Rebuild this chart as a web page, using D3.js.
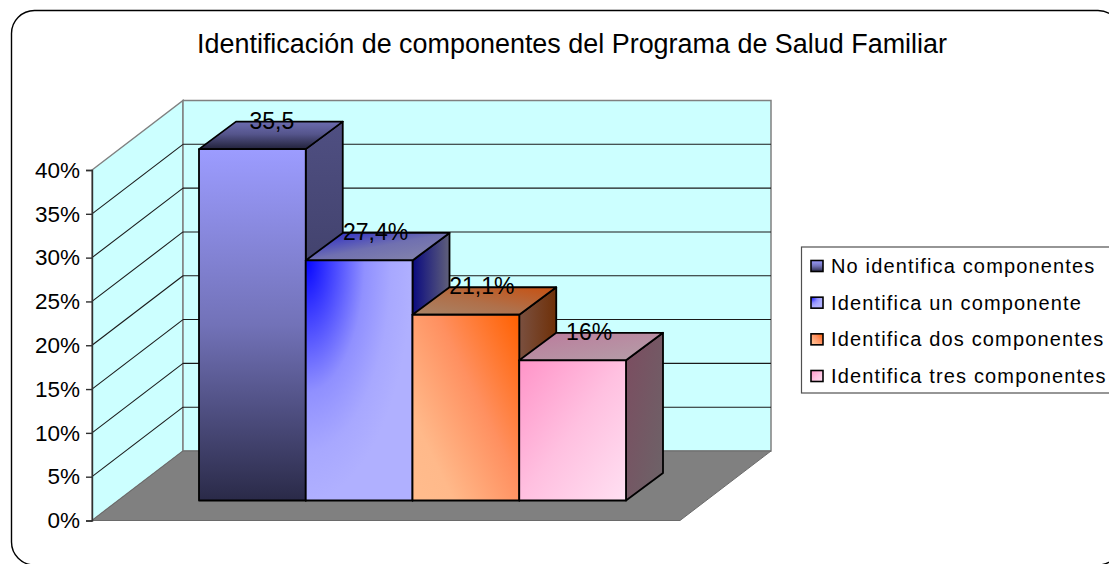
<!DOCTYPE html>
<html><head><meta charset="utf-8">
<script src="https://cdn.jsdelivr.net/npm/d3@7"></script>
<style>html,body{margin:0;padding:0;background:#fff}svg{display:block}text{font-family:"Liberation Sans",Arial,sans-serif;fill:#000}</style>
</head><body><svg id="c" width="1109" height="564"></svg>
<script>
const title = "Identificación de componentes del Programa de Salud Familiar";
const categories = ["No identifica componentes","Identifica un componente","Identifica dos componentes","Identifica tres componentes"];
const plotted = [40.1, 27.4, 21.2, 16];
const dataLabels = ["35,5","27,4%","21,1%","16%"];
const ticks = [0,5,10,15,20,25,30,35,40];
const labelDx = [1,-2,-2.5,-2];

const svg = d3.select("#c");
const defs = svg.append("defs");
function grad(id, x1,y1,x2,y2, stops){
  const g = defs.append("linearGradient").attr("id",id).attr("x1",x1).attr("y1",y1).attr("x2",x2).attr("y2",y2);
  stops.forEach(s=>g.append("stop").attr("offset",s[0]).attr("stop-color",s[1]));
}
function radial(id, cx,cy,r, stops){
  const g = defs.append("radialGradient").attr("id",id).attr("cx",cx).attr("cy",cy).attr("r",r).attr("fx",cx).attr("fy",cy);
  stops.forEach(s=>g.append("stop").attr("offset",s[0]).attr("stop-color",s[1]));
}
grad("f0",0,0,0,1,[[0,"#9c9cff"],[.5,"#7272b8"],[1,"#2a2a48"]]);
grad("t0",0,0,0,1,[[0,"#6c6cb0"],[.45,"#55558c"],[1,"#22223a"]]);
grad("s0",0,0,0,1,[[0,"#4f4f82"],[1,"#2e2e4c"]]);
radial("f1",0,0,1,[[0,"#0505ff"],[.3,"#5050ff"],[.55,"#9090ff"],[.8,"#a8a8ff"],[1,"#b0b0ff"]]);
grad("t1",0,0,1,1,[[0,"#2222cc"],[.5,"#7070b0"],[1,"#8888aa"]]);
grad("s1",0,0,1,0,[[0,"#0a0a80"],[1,"#60607a"]]);
grad("f2",1,0,0,.85,[[0,"#ff6000"],[.45,"#ff9060"],[.85,"#ffb98a"],[1,"#ffbb8c"]]);
grad("t2",1,0,0,1,[[0,"#c85010"],[.55,"#b0704a"],[1,"#a88468"]]);
grad("s2",1,0,0,0,[[0,"#6f3008"],[1,"#7a5040"]]);
grad("f3",0,0,1,1,[[0,"#ff94c8"],[.5,"#ffc0e0"],[1,"#ffe0f2"]]);
grad("t3",0,0,1,1,[[0,"#bc7a9c"],[1,"#b4a0a8"]]);
grad("s3",0,0,1,1,[[0,"#7c4c60"],[1,"#6c6468"]]);

// chart area frame
svg.append("rect").attr("x",11.5).attr("y",10.5).attr("width",1109.5).attr("height",554.5)
  .attr("rx",23).attr("ry",23).attr("fill","#fff").attr("stroke","#000").attr("stroke-width",1.4);

// title
svg.append("text").attr("x",572).attr("y",53).attr("text-anchor","middle")
  .attr("font-size",27).attr("textLength",750).attr("lengthAdjust","spacingAndGlyphs").text(title);

// scales
const y = d3.scaleLinear().domain([0,40]).range([520.5,170]);
const wallDx = 91, wallDy = -69.5;
const x = d3.scaleBand().domain(categories).range([199,626]).padding(0);
const barDx = 37, barDy = -27.5, barShift = -20;

const pts = a => a.map(p=>p.join(",")).join(" ");
const x0 = 92, xEnd = 680;
svg.append("polygon").attr("points",pts([[x0,y(0)],[x0+wallDx,y(0)+wallDy],[x0+wallDx,y(40)+wallDy],[x0,y(40)]]))
  .attr("fill","#ccffff").attr("stroke","#808080").attr("stroke-width",1.5);
svg.append("polygon").attr("points",pts([[x0+wallDx,y(0)+wallDy],[xEnd+wallDx,y(0)+wallDy],[xEnd+wallDx,y(40)+wallDy],[x0+wallDx,y(40)+wallDy]]))
  .attr("fill","#ccffff").attr("stroke","#808080").attr("stroke-width",1.5);
svg.append("polygon").attr("points",pts([[x0,y(0)],[xEnd,y(0)],[xEnd+wallDx,y(0)+wallDy],[x0+wallDx,y(0)+wallDy]]))
  .attr("fill","#808080").attr("stroke","#6a6a6a").attr("stroke-width",1);

// gridlines
ticks.filter(t=>t>0&&t<40).forEach(t=>{
  const g = svg.append("g").attr("fill","none").attr("stroke","#1a1a1a").attr("stroke-width",1.1);
  g.append("line").attr("x1",x0).attr("y1",y(t)).attr("x2",x0+wallDx).attr("y2",y(t)+wallDy);
  g.append("line").attr("x1",x0+wallDx).attr("y1",y(t)+wallDy).attr("x2",xEnd+wallDx).attr("y2",y(t)+wallDy);
});

// axis
const axis = d3.axisLeft(y).tickValues(ticks).tickFormat(d=>d+"%").tickSize(6).tickPadding(6);
const ag = svg.append("g").attr("transform",`translate(${x0},0)`).call(axis);
ag.select(".domain").attr("stroke","#303030").attr("stroke-width",1.4);
ag.selectAll(".tick line").attr("stroke","#303030").attr("stroke-width",1.4);
ag.selectAll("text").attr("font-size",22.5).attr("font-family",'"Liberation Sans",Arial,sans-serif');

// bars
categories.forEach((c,i)=>{
  const l = x(c), r = l + x.bandwidth(), b = y(0)+barShift, t = y(plotted[i])+barShift;
  const g = svg.append("g").attr("stroke","#000").attr("stroke-width",1.8).attr("stroke-linejoin","round");
  g.append("polygon").attr("points",pts([[r,t],[r+barDx,t+barDy],[r+barDx,b+barDy],[r,b]])).attr("fill",`url(#s${i})`);
  g.append("polygon").attr("points",pts([[l,t],[r,t],[r+barDx,t+barDy],[l+barDx,t+barDy]])).attr("fill",`url(#t${i})`);
  g.append("rect").attr("x",l).attr("y",t).attr("width",r-l).attr("height",b-t).attr("fill",`url(#f${i})`);
});
// data labels
categories.forEach((c,i)=>{
  const l = x(c), t = y(plotted[i])+barShift;
  svg.append("text").attr("x",l+x.bandwidth()/2+barDx/2+labelDx[i]).attr("y",t+barDy+7)
    .attr("text-anchor","middle").attr("font-size",23).text(dataLabels[i]);
});

// legend
const lg = svg.append("g");
lg.append("rect").attr("x",801.5).attr("y",247).attr("width",330).attr("height",146).attr("fill","#fff").attr("stroke","#505050").attr("stroke-width",1.2);
const rowY = d3.scalePoint().domain(categories).range([266,376]);
categories.forEach((c,i)=>{
  lg.append("rect").attr("x",811).attr("y",rowY(c)-5.5).attr("width",12).attr("height",11)
    .attr("fill",`url(#f${i})`).attr("stroke","#000").attr("stroke-width",1.6);
  lg.append("text").attr("x",831).attr("y",rowY(c)+7).attr("font-size",20).attr("letter-spacing",1.15).text(c);
});
</script></body></html>
